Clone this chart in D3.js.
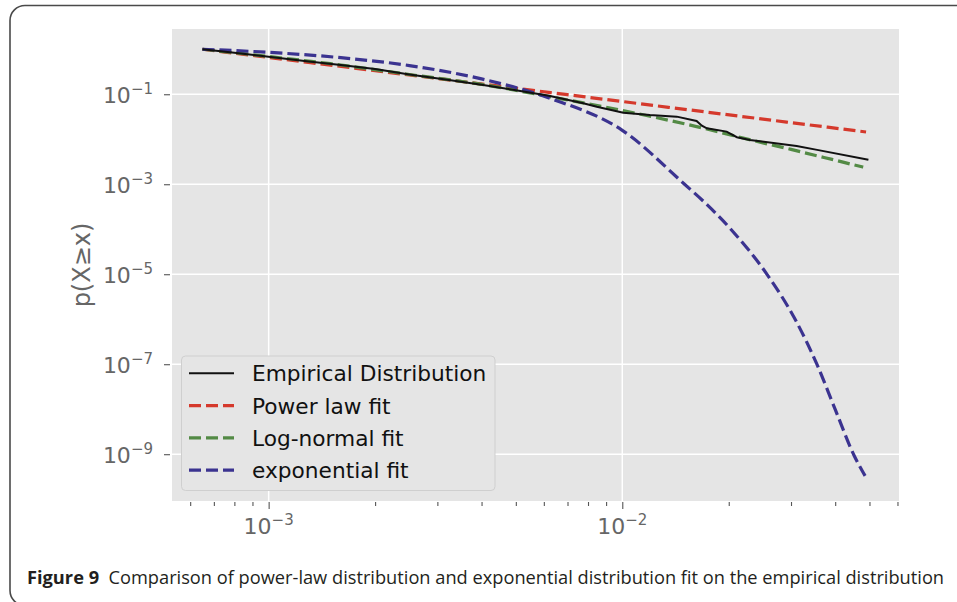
<!DOCTYPE html>
<html>
<head>
<meta charset="utf-8">
<script src="https://cdn.jsdelivr.net/npm/d3@7"></script>
<style>
  body { margin: 0; background: #fff; }
  svg { display: block; }
</style>
</head>
<body>
<svg id="chart" width="957" height="602"></svg>
<script>
// Werte
// Empirische Verteilung
const empX = [0.00065, 0.0008, 0.001, 0.0013, 0.0016, 0.002, 0.0025, 0.0032, 0.004, 0.005, 0.0062,
  0.00776, 0.00847, 0.01007, 0.01197, 0.01426, 0.01622, 0.01679, 0.01734, 0.01972, 0.02109, 0.02296,
  0.03112, 0.03556, 0.04966];
const empP = [1, 0.832, 0.684, 0.537, 0.447, 0.363, 0.275, 0.209, 0.162, 0.123, 0.0923,
  0.0631, 0.053, 0.039, 0.0347, 0.0318, 0.0255, 0.02, 0.0175, 0.0148, 0.0111, 0.0096,
  0.0071, 0.0058, 0.0035];

// Power law
const plX = [0.00065, 0.001, 0.0025, 0.01, 0.025, 0.0489];
const plP = [1, 0.657, 0.268, 0.0689, 0.028, 0.0145];

// Log-normal
const lnX = [0.00065, 0.001, 0.0016, 0.0025, 0.004, 0.0063, 0.01, 0.016, 0.025, 0.03, 0.035, 0.04, 0.045, 0.048];
const lnP = [1, 0.692, 0.447, 0.275, 0.166, 0.0871, 0.0437, 0.0196, 0.0083, 0.00594, 0.0044, 0.00343, 0.00271, 0.0024];

// Exponential
const exX = [0.00065, 0.001, 0.0016, 0.0025, 0.004, 0.0063, 0.01, 0.015, 0.0169, 0.0206, 0.0256, 0.0311, 0.0355, 0.04, 0.0452, 0.0486];
const exP = [1, 0.855, 0.65, 0.434, 0.219, 0.0794, 0.0158, 0.001, 4.3e-4, 8.7e-5, 1.02e-5, 8.7e-7, 1.0e-7, 9.9e-9, 9.5e-10, 3.3e-10];

const seriesNames = ["Empirical Distribution", "Power law fit", "Log-normal fit", "exponential fit"];

// Achsen
const xLimits = [5.33e-4, 0.0606];
const yLimits = [9.12e-11, 2.82];
const xMajor = [1e-3, 1e-2];
const yMajor = [1e-1, 1e-3, 1e-5, 1e-7, 1e-9];
const xTickExp = ["\u22123", "\u22122"];
const yTickExp = ["\u22121", "\u22123", "\u22125", "\u22127", "\u22129"];

const captionBold = "Figure 9";
const captionText = "Comparison of power-law distribution and exponential distribution fit on the empirical distribution";

// Stile
const styles = [
  { color: "#111111", width: 2, dash: null },
  { color: "#d5392c", width: 3.2, dash: "12 5" },
  { color: "#538a45", width: 3.2, dash: "12 5" },
  { color: "#3b3390", width: 3.2, dash: "12 5" }
];

const svg = d3.select("#chart");
const plot = { left: 172, right: 899, top: 29, bottom: 501 };

const x = d3.scaleLog().domain(xLimits).range([plot.left, plot.right]);
const y = d3.scaleLog().domain(yLimits).range([plot.bottom, plot.top]);

// Rahmen
svg.append("rect")
  .attr("x", 10).attr("y", 5.5)
  .attr("width", 980).attr("height", 600)
  .attr("rx", 15)
  .style("fill", "none")
  .style("stroke", "#4a4a4a")
  .style("stroke-width", 1.6);

// Hintergrund
svg.append("rect")
  .attr("x", plot.left).attr("y", plot.top)
  .attr("width", plot.right - plot.left).attr("height", plot.bottom - plot.top)
  .style("fill", "#e5e5e5");

// Gitter
svg.append("g").selectAll("line")
  .data(xMajor)
  .join("line")
  .attr("x1", d => x(d)).attr("x2", d => x(d))
  .attr("y1", plot.top).attr("y2", plot.bottom)
  .style("stroke", "#fff").style("stroke-width", 1.5);

svg.append("g").selectAll("line")
  .data(yMajor)
  .join("line")
  .attr("x1", plot.left).attr("x2", plot.right)
  .attr("y1", d => y(d)).attr("y2", d => y(d))
  .style("stroke", "#fff").style("stroke-width", 1.5);

// Ticks
const xMinor = x.ticks().filter(t => !xMajor.some(m => Math.abs(m - t) / m < 1e-6));

function styleAxis(g) {
  g.select(".domain").remove();
  g.selectAll(".tick line").style("stroke", "#555").style("stroke-width", 1.1);
}

svg.append("g")
  .attr("transform", `translate(0,${plot.bottom + 1})`)
  .call(d3.axisBottom(x).tickValues(xMajor).tickSize(7).tickFormat(""))
  .call(styleAxis);

svg.append("g")
  .attr("transform", `translate(0,${plot.bottom + 1})`)
  .call(d3.axisBottom(x).tickValues(xMinor).tickSize(4).tickFormat(""))
  .call(styleAxis);

svg.append("g")
  .attr("transform", `translate(${plot.left - 2},0)`)
  .call(d3.axisLeft(y).tickValues(yMajor).tickSize(6).tickFormat(""))
  .call(styleAxis);

// Tick-Beschriftungen
const labelColor = "#666";
svg.append("g").selectAll("text")
  .data(xMajor)
  .join("text")
  .attr("x", d => x(d))
  .attr("y", 534)
  .attr("text-anchor", "middle")
  .style("font-family", "'DejaVu Sans', sans-serif")
  .style("fill", labelColor)
  .each(function(d, i) {
    const t = d3.select(this);
    t.append("tspan").style("font-size", "22px").text("10");
    t.append("tspan").attr("dy", -9.5).style("font-size", "15px").text(xTickExp[i]);
  });

svg.append("g").selectAll("text")
  .data(yMajor)
  .join("text")
  .attr("x", 153)
  .attr("y", d => y(d) + 9)
  .attr("text-anchor", "end")
  .style("font-family", "'DejaVu Sans', sans-serif")
  .style("fill", labelColor)
  .each(function(d, i) {
    const t = d3.select(this);
    t.append("tspan").style("font-size", "22px").text("10");
    t.append("tspan").attr("dy", -9.5).style("font-size", "15px").text(yTickExp[i]);
  });

// Achsentitel
svg.append("text")
  .attr("transform", `translate(90,${(plot.top + plot.bottom) / 2}) rotate(-90)`)
  .attr("text-anchor", "middle")
  .style("font-family", "'DejaVu Sans', sans-serif")
  .style("font-size", "24px")
  .style("fill", labelColor)
  .text("p(X\u2265x)");

// Linien
const seriesData = [
  d3.zip(empX, empP),
  d3.zip(plX, plP),
  d3.zip(lnX, lnP),
  d3.zip(exX, exP)
];

const lineFit = d3.line()
  .x(d => x(d[0]))
  .y(d => y(d[1]))
  .curve(d3.curveMonotoneX);

const lineEmp = d3.line()
  .x(d => x(d[0]))
  .y(d => y(d[1]));

const drawOrder = [1, 2, 3, 0];
drawOrder.forEach(i => {
  svg.append("path")
    .datum(seriesData[i])
    .attr("d", i === 0 ? lineEmp : lineFit)
    .style("fill", "none")
    .style("stroke", styles[i].color)
    .style("stroke-width", styles[i].width)
    .style("stroke-dasharray", styles[i].dash);
});

// Legende
const legend = svg.append("g");
legend.append("rect")
  .attr("x", 181.5).attr("y", 356)
  .attr("width", 313.5).attr("height", 134.5)
  .attr("rx", 4)
  .style("fill", "#e5e5e5")
  .style("stroke", "#cfcfcf")
  .style("stroke-width", 1);

const rows = legend.selectAll(".row")
  .data(seriesNames)
  .join("g")
  .attr("class", "row")
  .attr("transform", (d, i) => `translate(0,${373.3 + i * 32.3})`);

rows.append("line")
  .attr("x1", 189).attr("x2", 234)
  .attr("y1", 0).attr("y2", 0)
  .style("stroke", (d, i) => styles[i].color)
  .style("stroke-width", (d, i) => styles[i].width)
  .style("stroke-dasharray", (d, i) => styles[i].dash);

rows.append("text")
  .attr("x", 252)
  .attr("y", 8)
  .style("font-family", "'DejaVu Sans', sans-serif")
  .style("font-size", "21.7px")
  .style("fill", "#111")
  .text(d => d);

// Bildunterschrift
const cap = svg.append("text")
  .style("font-family", "'Open Sans', sans-serif")
  .style("font-size", "17.5px")
  .style("fill", "#231f20");
cap.append("tspan").style("font-weight", "bold").text(captionBold);
cap.append("tspan").text("\u00a0\u00a0" + captionText);
const capW = cap.node().getComputedTextLength();
cap.attr("transform", `translate(27,584) scale(${918 / capW},1)`);
</script>
</body>
</html>
